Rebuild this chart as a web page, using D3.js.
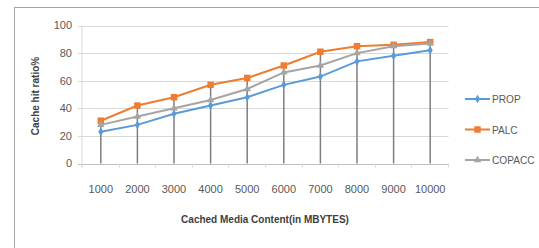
<!DOCTYPE html>
<meta charset="utf-8">
<body>
<script src="https://cdn.jsdelivr.net/npm/d3@7"></script>
<style>
    html, body {
        margin: 0;
        background: #fff;
    }
    text {
        font-family: "Liberation Sans", Arial, sans-serif;
        fill: #595959;
    }
</style>
<script>
var sizes = ["1000", "2000", "3000", "4000", "5000", "6000", "7000", "8000", "9000", "10000"],
    prop = [23, 28, 36, 42, 48, 57, 63, 74, 78, 82],
    palc = [31, 42, 48, 57, 62, 71, 81, 85, 86, 88],
    copacc = [28, 34, 40, 46, 54, 66, 71, 80, 85, 87],
    yTicks = [0, 20, 40, 60, 80, 100];

var series = [
    {name: "PROP", values: prop, color: "#5b9bd5", marker: d3.symbolDiamond, size: 22},
    {name: "PALC", values: palc, color: "#ed7d31", marker: d3.symbolSquare, size: 42},
    {name: "COPACC", values: copacc, color: "#a5a5a5", marker: d3.symbolTriangle, size: 24}
];

var width = 539, height = 248;

var svg = d3.select("body").append("svg")
    .attr("width", width)
    .attr("height", height);

// outer frame, runs off the right and bottom edges
svg.append("rect")
    .attr("x", 14.5).attr("y", 7.5)
    .attr("width", 600).attr("height", 300)
    .attr("fill", "none")
    .attr("stroke", "#a6a6a6");

var x = d3.scaleBand().domain(sizes).range([82.5, 448.5]),
    y = d3.scaleLinear().domain([0, 100]).range([163.5, 25.5]);

var cx = function(i) { return x(sizes[i]) + x.bandwidth() / 2; };

// gridlines
svg.append("g").selectAll("line")
    .data(yTicks)
    .enter().append("line")
    .attr("x1", 78).attr("x2", 448.5)
    .attr("y1", function(d) { return Math.round(y(d)) + 0.5; })
    .attr("y2", function(d) { return Math.round(y(d)) + 0.5; })
    .attr("stroke", function(d) { return d === 0 ? "#bfbfbf" : "#d9d9d9"; });

svg.append("line")
    .attr("x1", 82).attr("x2", 82)
    .attr("y1", y(100)).attr("y2", y(0) + 4)
    .attr("stroke", "#d9d9d9");

// x tick marks between categories
svg.append("g").selectAll("line")
    .data(sizes.concat(["end"]))
    .enter().append("line")
    .attr("x1", function(d, i) { return Math.round(82 + i * x.bandwidth()) + 0.5; })
    .attr("x2", function(d, i) { return Math.round(82 + i * x.bandwidth()) + 0.5; })
    .attr("y1", y(0)).attr("y2", y(0) + 4)
    .attr("stroke", "#d9d9d9");

// drop lines
svg.append("g").selectAll("line")
    .data(sizes)
    .enter().append("line")
    .attr("x1", function(d, i) { return cx(i); })
    .attr("x2", function(d, i) { return cx(i); })
    .attr("y1", function(d, i) { return y(d3.max(series, function(s) { return s.values[i]; })); })
    .attr("y2", y(0))
    .attr("stroke", "#7f7f7f")
    .attr("stroke-width", 1.5);

// y tick labels
svg.append("g").selectAll("text")
    .data(yTicks)
    .enter().append("text")
    .attr("x", 72)
    .attr("y", function(d) { return y(d); })
    .attr("dy", "0.35em")
    .attr("text-anchor", "end")
    .style("font-size", "11px")
    .text(function(d) { return d; });

// x tick labels
svg.append("g").selectAll("text")
    .data(sizes)
    .enter().append("text")
    .attr("x", function(d, i) { return cx(i); })
    .attr("y", 193)
    .attr("text-anchor", "middle")
    .style("font-size", "11px")
    .text(function(d) { return d; });

var line = d3.line()
    .x(function(d, i) { return cx(i); })
    .y(function(d) { return y(d); });

var g = svg.selectAll("g.series")
    .data(series)
    .enter().append("g")
    .attr("class", "series");

g.append("path")
    .attr("d", function(s) { return line(s.values); })
    .attr("fill", "none")
    .attr("stroke", function(s) { return s.color; })
    .attr("stroke-width", 2);

g.each(function(s) {
    d3.select(this).selectAll("path.m")
        .data(s.values)
        .enter().append("path")
        .attr("class", "m")
        .attr("transform", function(d, i) { return "translate(" + [cx(i), y(d)] + ")"; })
        .attr("d", d3.symbol().type(s.marker).size(s.size))
        .attr("fill", s.color);
});

// legend
var legend = svg.selectAll("g.legend")
    .data(series)
    .enter().append("g")
    .attr("class", "legend")
    .attr("transform", function(d, i) { return "translate(" + [465, 99 + i * 30.5] + ")"; });

legend.append("line")
    .attr("x1", 0).attr("x2", 25)
    .attr("stroke", function(d) { return d.color; })
    .attr("stroke-width", 2);

legend.append("path")
    .attr("transform", "translate(12.5,0)")
    .attr("d", function(d) { return d3.symbol().type(d.marker).size(d.size)(); })
    .attr("fill", function(d) { return d.color; });

// narrow the legend labels a bit, the original font is condensed
legend.append("text")
    .attr("transform", "translate(27,0) scale(0.88,1)")
    .attr("dy", "0.35em")
    .style("font-size", "11.5px")
    .text(function(d) { return d.name; });

// axis titles
svg.append("text")
    .attr("x", 265)
    .attr("y", 223)
    .attr("text-anchor", "middle")
    .style("font-size", "10px")
    .style("font-weight", "bold")
    .style("fill", "#404040")
    .text("Cached Media Content(in MBYTES)");

svg.append("text")
    .attr("transform", "translate(39,96) rotate(-90)")
    .attr("text-anchor", "middle")
    .style("font-size", "10px")
    .style("font-weight", "bold")
    .style("fill", "#404040")
    .text("Cache hit ratio%");
</script>
